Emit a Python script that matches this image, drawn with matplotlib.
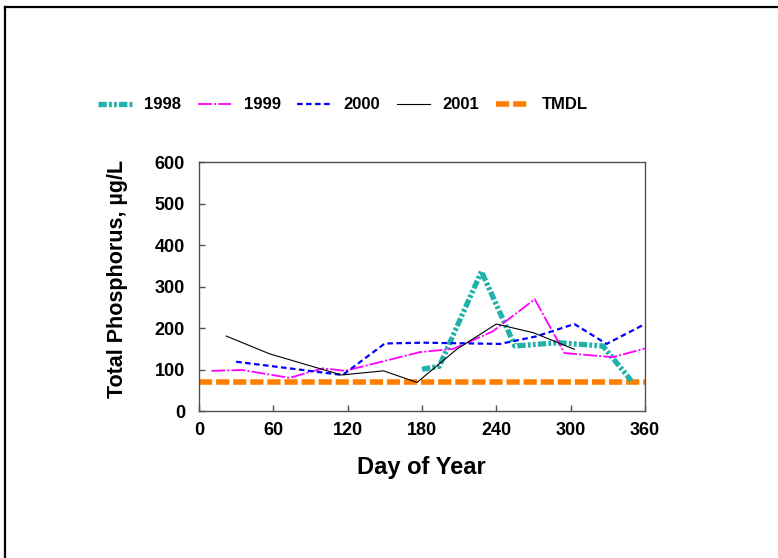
import matplotlib
matplotlib.use("Agg")
import matplotlib.pyplot as plt
from matplotlib.lines import Line2D

plt.rcParams['font.family'] = ['Liberation Sans', 'DejaVu Sans']
plt.rcParams['font.weight'] = 'bold'
plt.rcParams['lines.scale_dashes'] = False

# total phosphorus by day of year
days_1998 = [180, 194, 228, 255, 290, 326, 349]
tp_1998 = [101, 108, 337, 157, 165, 157, 73]

days_1999 = [10, 35, 73, 100, 118, 178, 205, 237, 271, 295, 334, 360]
tp_1999 = [97, 99, 80, 103, 97, 142, 150, 192, 270, 140, 130, 151]

days_2000 = [30, 73, 116, 150, 181, 243, 272, 303, 329, 360]
tp_2000 = [119, 103, 87, 163, 165, 162, 180, 210, 162, 210]

days_2001 = [22, 57, 115, 149, 176, 208, 240, 270, 303]
tp_2001 = [181, 138, 87, 97, 69, 149, 210, 189, 149]

tmdl_days = [0, 360]
tmdl_value = 70

fig = plt.figure(figsize=(7.78, 5.58), dpi=100)
ax = fig.add_axes([0.2558, 0.2634, 0.829 - 0.2558, 0.7088 - 0.2634])

ax.plot(days_1998, tp_1998, color='#20B2AA', lw=3.8,
        linestyle=(0, (6, 1.6, 2, 1.6, 2, 1.6)), label='1998', zorder=3)
ax.plot(days_1999, tp_1999, color='#FF00FF', lw=1.3,
        linestyle=(0, (10, 1.5, 1.5, 1.5)), label='1999', zorder=4)
ax.plot(days_2000, tp_2000, color='#0000FF', lw=1.6,
        linestyle=(0, (4, 2.5)), label='2000', zorder=4)
ax.plot(days_2001, tp_2001, color='black', lw=0.8, label='2001', zorder=5)
ax.plot(tmdl_days, [tmdl_value, tmdl_value], color='#FF8000', lw=4,
        linestyle=(0, (9.5, 2.8)), label='TMDL', zorder=2)

ax.set_xlim(0, 360)
ax.set_ylim(0, 600)
ax.set_xticks(range(0, 361, 60))
ax.set_yticks(range(0, 601, 100))
for s in ax.spines.values():
    s.set_color('#505050')
    s.set_linewidth(1.0)
ax.tick_params(direction='in', length=4, width=1, color='#505050', labelsize=13)
ax.tick_params(axis='x', pad=8)
ax.tick_params(axis='y', pad=10)

ax.set_xlabel('Day of Year', fontsize=17, fontweight='bold')
ax.set_ylabel('Total Phosphorus, µg/L', fontsize=15.5, fontweight='bold')
ax.xaxis.set_label_coords(0.499, -0.229)
ax.yaxis.set_label_coords(-0.182, 0.532)
ax.xaxis.label.set_va('center')
ax.yaxis.label.set_va('center')

fig.legend(loc='center', bbox_to_anchor=(0.441, 0.812), ncol=5, frameon=False,
           fontsize=12, handlelength=2.0, handletextpad=0.75, columnspacing=1.0)

# outer frame on top and left
fig.add_artist(Line2D([4.5 / 778, 1.0], [1 - 6.5 / 558, 1 - 6.5 / 558],
                      transform=fig.transFigure, color='black', lw=1.6))
fig.add_artist(Line2D([4.5 / 778, 4.5 / 778], [0.0, 1 - 6.5 / 558],
                      transform=fig.transFigure, color='black', lw=1.6))

fig.savefig('out.png', dpi=100)
